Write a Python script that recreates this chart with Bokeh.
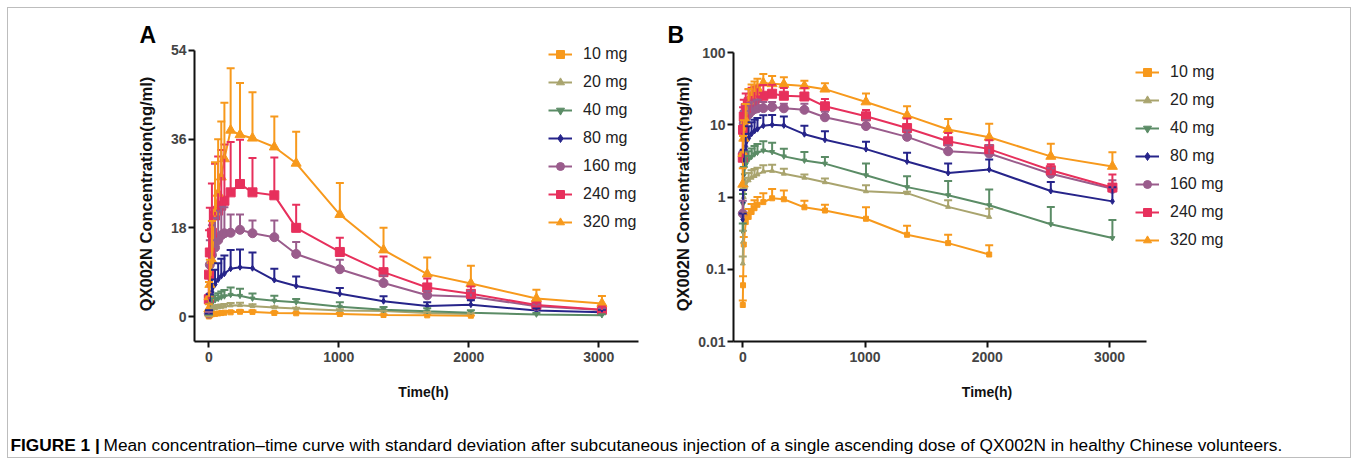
from bokeh.plotting import figure
from bokeh.models import (ColumnDataSource, Whisker, TeeHead, Legend, LegendItem,
                          FixedTicker, Label, Range1d, CustomJSTickFormatter)
from bokeh.layouts import row, column
from bokeh.embed import file_html
from bokeh.resources import INLINE

# ---------------- data ----------------
times = [0, 2, 8, 24, 48, 72, 96, 120, 168, 240, 336, 504, 672, 1008, 1344, 1680, 2016, 2520, 3024]

doses = ["10 mg", "20 mg", "40 mg", "80 mg", "160 mg", "240 mg", "320 mg"]

mean_10 = [0.032, 0.06, 0.22, 0.45, 0.53, 0.62, 0.70, 0.78, 0.85, 0.96, 0.93, 0.72, 0.65, 0.50, 0.30, 0.23, 0.16, None, None]
sd_10 = [0.005, 0.02, 0.06, 0.15, 0.15, 0.18, 0.20, 0.22, 0.28, 0.33, 0.30, 0.17, 0.13, 0.22, 0.10, 0.07, 0.055, None, None]

mean_20 = [0.12, 0.24, 1.0, 1.45, 1.7, 1.85, 1.95, 2.05, 2.25, 2.3, 2.1, 1.85, 1.6, 1.2, 1.13, 0.73, 0.53, None, None]
sd_20 = [0.03, 0.1, 0.3, 0.4, 0.45, 0.5, 0.5, 0.5, 0.5, 0.5, 0.37, 0.2, 0.2, 0.25, 0.05, 0.17, 0.16, None, None]

mean_40 = [0.33, 0.8, 2.0, 2.8, 3.3, 3.6, 3.9, 4.1, 4.4, 4.2, 3.65, 3.2, 2.9, 2.0, 1.37, 1.06, 0.77, 0.42, 0.27]
sd_40 = [0.1, 0.3, 0.6, 0.9, 1.0, 1.1, 1.2, 1.3, 1.5, 1.45, 1.0, 1.0, 0.67, 0.9, 0.56, 0.6, 0.5, 0.31, 0.21]

mean_80 = [0.49, 0.85, 3.0, 5.0, 6.5, 7.5, 8.2, 8.7, 9.7, 10.0, 9.8, 7.4, 6.2, 4.6, 3.1, 2.15, 2.4, 1.21, 0.87]
sd_80 = [0.1, 0.4, 1.5, 2.5, 3.0, 3.3, 3.5, 3.7, 3.8, 3.6, 3.2, 2.3, 1.9, 1.2, 1.0, 0.75, 0.9, 0.4, 0.5]

mean_160 = [0.59, 4.0, 10.5, 12.5, 14.0, 15.5, 16.5, 16.9, 17.0, 17.6, 16.9, 16.1, 12.7, 9.6, 6.8, 4.3, 4.0, 2.1, 1.3]
sd_160 = [0.3, 3.0, 5.0, 6.0, 6.0, 6.0, 5.8, 5.3, 3.7, 3.1, 2.6, 3.4, 2.4, 1.9, 1.5, 0.9, 1.2, 0.4, 0.4]

mean_240 = [3.5, 8.5, 13.0, 17.0, 20.5, 21.5, 22.5, 23.5, 25.2, 26.9, 25.2, 24.6, 18.0, 13.1, 9.0, 5.9, 4.6, 2.35, 1.35]
sd_240 = [4.5, 9.0, 9.1, 10.0, 10.5, 11.0, 11.3, 11.4, 10.2, 9.0, 7.0, 7.7, 4.7, 2.9, 3.2, 1.8, 1.5, 0.5, 0.7]

mean_320 = [1.5, 4.0, 6.5, 11.4, 21.2, 25.0, 28.3, 32.0, 37.8, 36.9, 36.2, 34.4, 31.1, 20.7, 13.5, 8.6, 6.7, 3.65, 2.65]
sd_320 = [1.0, 3.0, 5.0, 8.0, 10.1, 11.0, 11.3, 11.4, 12.6, 10.5, 9.3, 6.2, 6.4, 6.4, 4.5, 3.4, 3.6, 1.8, 1.5]

means = [mean_10, mean_20, mean_40, mean_80, mean_160, mean_240, mean_320]
sds = [sd_10, sd_20, sd_40, sd_80, sd_160, sd_240, sd_320]

colors = ["#F7991C", "#A9A46E", "#5B8C66", "#26248A", "#9A5C8C", "#E7305C", "#F7991C"]
markers = ["square", "triangle", "inverted_triangle", "diamond", "circle", "square", "triangle"]
msizes = [5, 5, 5, 6, 9, 9, 10]

lin_yticks = [0, 18, 36, 54]
log_yticks = [0.01, 0.1, 1, 10, 100]
xticks = [0, 1000, 2000, 3000]

caption_bold = "FIGURE 1 |"
caption_text = ("Mean concentration\u2013time curve with standard deviation after subcutaneous injection "
                "of a single ascending dose of QX002N in healthy Chinese volunteers.")

FONT = "Liberation Sans"


def style_axes(p):
    for ax in (p.xaxis[0], p.yaxis[0]):
        ax.axis_line_width = 2
        ax.axis_line_color = "#111111"
        ax.major_tick_line_width = 2
        ax.major_tick_line_color = "#111111"
        ax.major_tick_out = 6
        ax.major_tick_in = 0
        ax.minor_tick_line_color = None
        ax.major_label_text_font = FONT
        ax.major_label_text_font_style = "bold"
        ax.major_label_text_font_size = "14px"
        ax.major_label_text_color = "#444444"
        ax.axis_label_text_font = FONT
        ax.axis_label_text_font_style = "bold"
        ax.axis_label_text_color = "#111111"
    p.xaxis.axis_label = "Time(h)"
    p.xaxis.axis_label_text_font_size = "14px"
    p.xaxis.major_label_standoff = 4
    p.xaxis.axis_label_standoff = 19
    p.yaxis.axis_label = "QX002N Concentration(ng/ml)"
    p.yaxis.axis_label_text_font_size = "16.5px"
    p.xaxis.ticker = FixedTicker(ticks=xticks)
    p.grid.visible = False
    p.outline_line_color = None


def style_title(p, letter, offset):
    p.title.text = letter
    p.title.align = "left"
    p.title.offset = offset
    p.title.standoff = -2
    p.title.text_font = FONT
    p.title.text_font_style = "bold"
    p.title.text_font_size = "23px"
    p.title.text_color = "#000000"


def add_series(p, legend_xy):
    items = []
    for i, dose in enumerate(doses):
        t = [tt for tt, m in zip(times, means[i]) if m is not None]
        m = [mm for mm in means[i] if mm is not None]
        s = [ss for ss in sds[i] if ss is not None]
        up = [a + b for a, b in zip(m, s)]
        src = ColumnDataSource(dict(t=t, m=m, up=up))
        c = colors[i]
        w = Whisker(source=src, base="t", lower="m", upper="up", dimension="height",
                    line_color=c, line_width=2, lower_head=None,
                    upper_head=TeeHead(size=8, line_color=c, line_width=2), level="glyph")
        p.add_layout(w)
        lr = p.line("t", "m", source=src, line_color=c, line_width=2)
        sr = p.scatter("t", "m", source=src, marker=markers[i], size=msizes[i],
                       fill_color=c, line_color=c)
        items.append(LegendItem(label=dose, renderers=[lr, sr]))
    leg = Legend(items=items, location=legend_xy, orientation="vertical",
                 glyph_width=24, glyph_height=20, label_height=20, spacing=8,
                 label_standoff=11, padding=0, margin=0,
                 border_line_color=None, background_fill_alpha=0,
                 label_text_font=FONT, label_text_font_size="16px",
                 label_text_color="#222222")
    p.add_layout(leg)


# ---------------- panel A (linear) ----------------
pA = figure(width=652, height=401, x_range=Range1d(-110, 3413), y_range=Range1d(-5.075, 54.81),
            output_backend="svg", toolbar_location=None,
            min_border_left=186, min_border_right=8, min_border_top=38, min_border_bottom=68,
            background_fill_color="white", border_fill_color="white")
style_axes(pA)
style_title(pA, "A", -55)
pA.yaxis.ticker = FixedTicker(ticks=lin_yticks)
pA.yaxis.bounds = (-5.075, 54)
pA.xaxis.bounds = (-110, 3305)
pA.yaxis.major_label_standoff = 2
pA.yaxis.axis_label_standoff = 13
add_series(pA, (354, 109))

# ---------------- panel B (log) ----------------
pB = figure(width=690, height=401, x_range=Range1d(-76, 4072), y_range=Range1d(0.01, 121.1),
            y_axis_type="log", output_backend="svg", toolbar_location=None,
            min_border_left=73, min_border_right=110, min_border_top=38, min_border_bottom=68,
            background_fill_color="white", border_fill_color="white")
style_axes(pB)
style_title(pB, "B", -66)
pB.yaxis.ticker = FixedTicker(ticks=log_yticks)
pB.yaxis.formatter = CustomJSTickFormatter(code="return tick.toString();")
pB.yaxis.bounds = (0.01, 100)
pB.xaxis.bounds = (-76, 3303)
pB.yaxis.major_label_standoff = 2
pB.yaxis.axis_label_standoff = 3
add_series(pB, (402, 91))

# ---------------- caption ----------------
pC = figure(width=1342, height=48, x_range=Range1d(0, 1342), y_range=Range1d(0, 48),
            output_backend="svg", toolbar_location=None, min_border=0,
            x_axis_location=None, y_axis_location=None, outline_line_color=None)
pC.grid.visible = False
pC.add_layout(Label(x=2, y=12.5, text=caption_bold, text_font=FONT, text_font_style="bold",
                    text_font_size="17.3px", text_baseline="middle", text_color="#000000"))
pC.add_layout(Label(x=95, y=12.5, text=caption_text, text_font=FONT,
                    text_font_size="17.3px", text_baseline="middle", text_color="#000000"))

layout = column(row(pA, pB), pC,
                styles={"border": "1px solid #bdbdbd", "margin-left": "7px", "margin-top": "7px"})

open("out.html", "w").write(file_html(layout, INLINE))
